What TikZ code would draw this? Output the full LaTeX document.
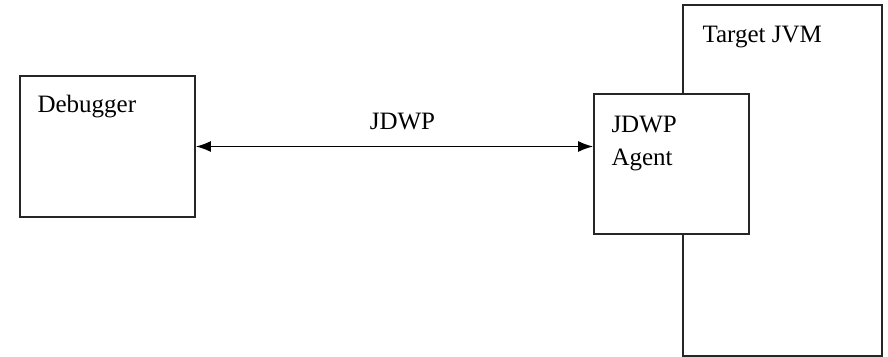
\documentclass[tikz,border=0pt]{standalone}
\usepackage{fontspec}
\setmainfont{Liberation Serif}
\usetikzlibrary{arrows.meta, positioning}

\begin{document}
\begin{tikzpicture}[
  x=0.5pt, y=-0.5pt,
  >={Latex[length=7.5pt, width=5.5pt]},
  font=\fontsize{12.5}{16.5}\selectfont,
  box/.style={draw, rectangle, line width=0.9pt, black!85, inner sep=0pt},
  boxlabel/.style={anchor=base west, inner sep=0pt, align=left, text=black, xshift=9pt, yshift=-18.5pt},
  link/.style={<->, line width=0.75pt, black}
]
\useasboundingbox (0,0) rectangle (888,357);

% Debugger side
\node[box, minimum width=87.5pt, minimum height=70.5pt,
      label={[boxlabel]north west:Debugger}] (Dbg) at (107.5,146.5) {};

% Target JVM with its agent
\node[box, minimum width=99.5pt, minimum height=175.5pt,
      label={[boxlabel, xshift=1pt, yshift=-0.75pt]north west:Target JVM}] (JVM) at (782.5,180.5) {};
\node[box, fill=white, minimum width=77.5pt, minimum height=70pt,
      label={[boxlabel, yshift=-17.75pt]north west:JDWP\\Agent}] (Agent) at (671.5,164) {};

% Protocol link
\draw[link] (Dbg.east) -- (Dbg.east -| Agent.west)
  node[pos=0.52, above=4.5pt] (Proto) {JDWP};

\end{tikzpicture}
\end{document}
